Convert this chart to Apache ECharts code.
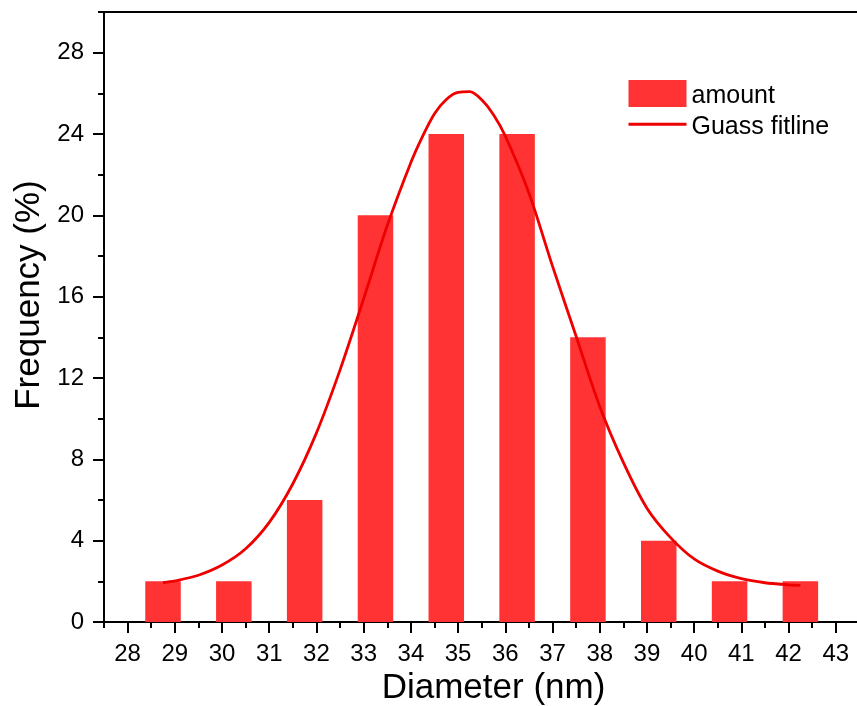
<!DOCTYPE html>
<html>
<head>
<meta charset="utf-8">
<script src="https://cdn.jsdelivr.net/npm/echarts@6/dist/echarts.min.js"></script>
<style>
  html, body { margin: 0; padding: 0; background: #ffffff; }
  #chart { width: 857px; height: 706px; }
</style>
</head>
<body>
<div id="chart"></div>
<script>
// Particle size histogram (bin centres in nm, frequency in %)
const binCenters = [28.75, 30.25, 31.75, 33.25, 34.75, 36.25, 37.75, 39.25, 40.75, 42.25];
const amount = [2, 2, 6, 20, 24, 24, 14, 4, 2, 2];

// Gaussian fit line, sampled along the diameter axis
const fitX = [28.75, 29.0, 29.5, 30.0, 30.5, 31.0, 31.5, 32.0, 32.5, 33.0, 33.5, 34.0, 34.25, 34.5, 34.75,
              35.0, 35.25, 35.5, 35.75, 36.0, 36.5, 37.0, 37.5, 38.0, 38.5, 39.0, 39.5, 40.0, 40.5,
              41.0, 41.5, 42.0, 42.25];
const fitY = [1.93, 2.02, 2.3, 2.8, 3.6, 4.9, 6.8, 9.3, 12.4, 15.9, 19.5, 22.6, 23.9, 25.0, 25.7,
              26.05, 26.08, 25.68, 24.95, 23.9, 21.1, 17.5, 14.05, 10.6, 7.85, 5.6, 4.15, 3.1, 2.5,
              2.13, 1.93, 1.83, 1.8];

// Tick labels
const diameterTicks = [28, 29, 30, 31, 32, 33, 34, 35, 36, 37, 38, 39, 40, 41, 42, 43];
const freqTicks = [0, 4, 8, 12, 16, 20, 24, 28];

const FONT = '"Liberation Sans", Arial, Helvetica, sans-serif';
const INK = '#000000';
const X_MIN = 27.5, X_MAX = 44, Y_MIN = 0, Y_MAX = 30;

const chart = echarts.init(document.getElementById('chart'), null, { renderer: 'canvas' });

const barData = binCenters.map((x, i) => [x, amount[i]]);
const fitData = fitX.map((x, i) => [x, fitY[i]]);

const option = {
  backgroundColor: '#ffffff',
  animation: false,
  grid: {
    left: 104, right: -26, top: 12, bottom: 84,
    containLabel: false,
    outerBoundsMode: 'none'
  },
  legend: {
    orient: 'vertical',
    left: 627, top: 80,
    padding: 0,
    itemWidth: 58, itemHeight: 27, itemGap: 5,
    formatter: '{t|{name}}',
    textStyle: {
      fontFamily: FONT, fontSize: 25, color: INK,
      rich: { t: { fontFamily: FONT, fontSize: 25, color: INK, padding: [5, 0, 0, 0] } }
    },
    data: [
      { name: 'amount', icon: 'rect' },
      { name: 'Guass fitline', itemStyle: { opacity: 0 }, lineStyle: { width: 3, color: '#ee0000' } }
    ]
  },
  xAxis: [
    {
      // axis line with minor ticks every 0.5 nm
      type: 'value', position: 'bottom', min: X_MIN, max: X_MAX, interval: 0.5,
      axisLine: { show: true, lineStyle: { color: INK, width: 2 } },
      axisTick: { show: true, length: 6, lineStyle: { color: INK, width: 2 } },
      axisLabel: { show: false },
      splitLine: { show: false }
    },
    {
      // major ticks and labels at whole nanometres
      type: 'value', position: 'bottom', min: X_MIN, max: X_MAX,
      axisLine: { show: false },
      axisTick: { show: true, length: 11, customValues: diameterTicks, lineStyle: { color: INK, width: 2 } },
      axisLabel: { show: true, customValues: diameterTicks, margin: 20, fontFamily: FONT, fontSize: 24, color: INK },
      splitLine: { show: false },
      name: 'Diameter (nm)',
      nameLocation: 'middle',
      nameGap: 42,
      nameTextStyle: { fontFamily: FONT, fontSize: 35, color: INK }
    },
    {
      // top frame line
      type: 'value', position: 'top', min: X_MIN, max: X_MAX,
      axisLine: { show: true, lineStyle: { color: INK, width: 2 } },
      axisTick: { show: false },
      axisLabel: { show: false },
      splitLine: { show: false }
    }
  ],
  yAxis: [
    {
      type: 'value', position: 'left', min: Y_MIN, max: Y_MAX, interval: 2,
      axisLine: { show: true, lineStyle: { color: INK, width: 2 } },
      axisTick: { show: true, length: 6, lineStyle: { color: INK, width: 2 } },
      axisLabel: { show: false },
      splitLine: { show: false }
    },
    {
      type: 'value', position: 'left', min: Y_MIN, max: Y_MAX,
      axisLine: { show: false },
      axisTick: { show: true, length: 11, customValues: freqTicks, lineStyle: { color: INK, width: 2 } },
      axisLabel: { show: true, customValues: freqTicks, margin: 20, fontFamily: FONT, fontSize: 24, color: INK },
      splitLine: { show: false },
      name: 'Frequency (%)',
      nameLocation: 'middle',
      nameGap: 57,
      nameRotate: 90,
      nameTextStyle: { fontFamily: FONT, fontSize: 35, color: INK, padding: [0, 0, 0, 44] }
    }
  ],
  series: [
    {
      name: 'amount',
      type: 'bar',
      xAxisIndex: 0, yAxisIndex: 0,
      barWidth: 35.5,
      itemStyle: { color: '#ff3333' },
      data: barData,
      z: 2
    },
    {
      name: 'Guass fitline',
      type: 'line',
      xAxisIndex: 0, yAxisIndex: 0,
      smooth: 0.3,
      showSymbol: false,
      symbol: 'none',
      lineStyle: { color: '#ee0000', width: 2.8 },
      itemStyle: { color: '#ee0000' },
      data: fitData,
      z: 3
    }
  ]
};

chart.setOption(option);
</script>
</body>
</html>
